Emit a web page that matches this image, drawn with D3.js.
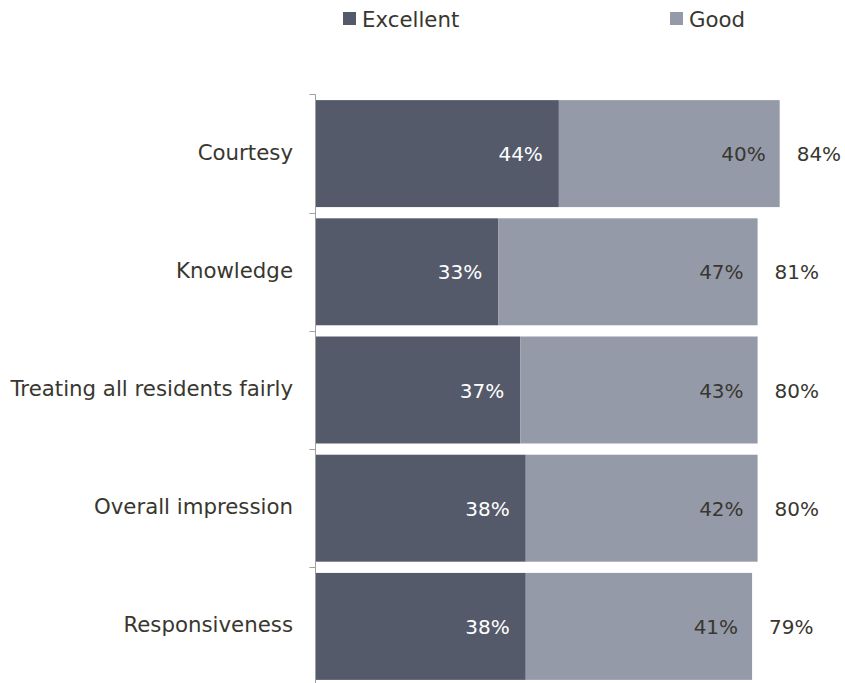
<!DOCTYPE html>
<html>
<head>
<meta charset="utf-8">
<script src="https://cdn.jsdelivr.net/npm/d3@7"></script>
<style>
  html, body { margin: 0; padding: 0; background: #fff; }
  svg text { font-family: "DejaVu Sans", Verdana, sans-serif; }
</style>
</head>
<body>
<svg id="chart" width="845" height="683"></svg>
<script>
// Ratings of staff, share answering "Excellent" and "Good"
const categories = ["Courtesy", "Knowledge", "Treating all residents fairly", "Overall impression", "Responsiveness"];
const excellent = [44, 33, 37, 38, 38];
const good = [40, 47, 43, 42, 41];
const totals = [84, 81, 80, 80, 79];
const seriesNames = ["Excellent", "Good"];
const seriesColors = ["#555a6a", "#959aa9"];

const svg = d3.select("#chart");
const fontSize = 21.3;
const valueFontSize = 20;
const textColor = "#38372f";

const x = d3.scaleLinear().domain([0, 100]).range([316, 868]);
const y = d3.scaleBand().domain(categories).range([94.5, 685.5])
  .paddingInner(0.095).paddingOuter(0.0475);

const rows = categories.map((c, i) => ({
  cat: c, exc: excellent[i], good: good[i], total: totals[i]
}));

// stacked segments
const g = svg.append("g");
const rowG = g.selectAll("g.row").data(rows).join("g").attr("class", "row");

rowG.append("rect")
  .attr("x", x(0))
  .attr("y", d => y(d.cat))
  .attr("width", d => x(d.exc) - x(0))
  .attr("height", y.bandwidth())
  .attr("fill", seriesColors[0]);

rowG.append("rect")
  .attr("x", d => x(d.exc))
  .attr("y", d => y(d.cat))
  .attr("width", d => x(d.exc + d.good) - x(d.exc))
  .attr("height", y.bandwidth())
  .attr("fill", seriesColors[1]);

// value labels
const cy = d => y(d.cat) + y.bandwidth() / 2 + 7.5;
rowG.append("text")
  .attr("x", d => x(d.exc) - 16)
  .attr("y", cy)
  .attr("text-anchor", "end")
  .attr("font-size", valueFontSize)
  .attr("fill", "#ffffff")
  .text(d => d.exc + "%");

rowG.append("text")
  .attr("x", d => x(d.exc + d.good) - 14)
  .attr("y", cy)
  .attr("text-anchor", "end")
  .attr("font-size", valueFontSize)
  .attr("fill", textColor)
  .text(d => d.good + "%");

rowG.append("text")
  .attr("x", d => x(d.exc + d.good) + 17)
  .attr("y", cy)
  .attr("text-anchor", "start")
  .attr("font-size", valueFontSize)
  .attr("fill", textColor)
  .text(d => d.total + "%");

// category axis: line with ticks at band boundaries
const axisX = 315.5;
svg.append("line")
  .attr("x1", axisX).attr("x2", axisX)
  .attr("y1", y.range()[0]).attr("y2", y.range()[1])
  .attr("stroke", "#a0a0a0").attr("stroke-width", 1);

const bounds = categories.map(c => y(c) - y.step() * y.paddingInner() / 2);
bounds.push(y.range()[1]);
svg.selectAll("line.tick").data(bounds).join("line")
  .attr("class", "tick")
  .attr("x1", axisX - 6).attr("x2", axisX)
  .attr("y1", d => Math.round(d) + 0.5).attr("y2", d => Math.round(d) + 0.5)
  .attr("stroke", "#a0a0a0").attr("stroke-width", 1);

svg.selectAll("text.cat").data(categories).join("text")
  .attr("class", "cat")
  .attr("x", 293)
  .attr("y", c => y(c) + y.bandwidth() / 2 + 6)
  .attr("text-anchor", "end")
  .attr("font-size", fontSize)
  .attr("fill", textColor)
  .text(c => c);

// legend
const legendX = [343, 670];
const leg = svg.selectAll("g.legend").data(seriesNames).join("g")
  .attr("class", "legend")
  .attr("transform", (d, i) => `translate(${legendX[i]},12)`);
leg.append("rect").attr("width", 13).attr("height", 13)
  .attr("fill", (d, i) => seriesColors[i]);
leg.append("text").attr("x", 19).attr("y", 15)
  .attr("font-size", fontSize).attr("fill", textColor)
  .text(d => d);
</script>
</body>
</html>
